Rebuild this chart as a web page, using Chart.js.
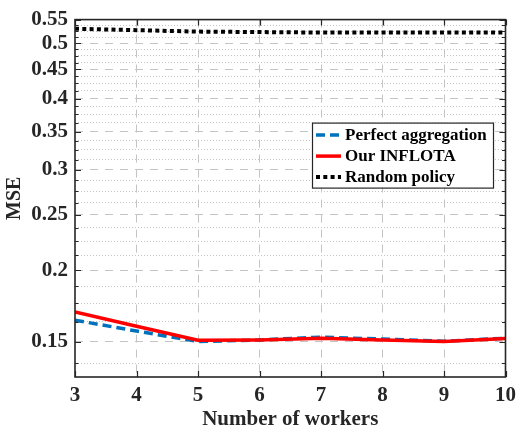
<!DOCTYPE html>
<html lang="en">
<head>
  <meta charset="UTF-8">
  <title>MSE vs number of workers</title>
  <style>
    html, body { margin: 0; padding: 0; background: #fff; }
  </style>
</head>
<body>
  <canvas id="myChart" width="522" height="430"></canvas>

  <script src="https://cdn.jsdelivr.net/npm/chart.js"></script>
  <script>
    // data
    const workers = [3, 4, 5, 6, 7, 8, 9, 10]
    const perfectAggregation = [0.1635, 0.1565, 0.1500, 0.1510, 0.1527, 0.1515, 0.1502, 0.1520]
    const ourInflota = [0.1690, 0.1596, 0.1508, 0.1510, 0.1520, 0.1510, 0.1500, 0.1518]
    const randomPolicy = [0.530, 0.527, 0.524, 0.523, 0.522, 0.522, 0.522, 0.522]

    const seriesNames = ['Perfect aggregation', 'Our INFLOTA', 'Random policy']
    const yMajorTicks = [0.15, 0.2, 0.25, 0.3, 0.35, 0.4, 0.45, 0.5, 0.55]
    const yMinorTicks = [0.1375, 0.1625, 0.175, 0.1875, 0.2125, 0.225, 0.2375, 0.2625, 0.275, 0.2875,
      0.3125, 0.325, 0.3375, 0.3625, 0.375, 0.3875, 0.4125, 0.425, 0.4375, 0.4625, 0.475, 0.4875,
      0.5125, 0.525, 0.5375]
    const yRange = [0.13, 0.55]
    const xRange = [3, 10]

    const FONT = 'Liberation Serif, Times New Roman, serif'
    const INK = '#262626'
    const GRID = '#c4c4c4'

    const toPoints = arr => arr.map((v, i) => ({ x: workers[i], y: v }))

    // box + inward ticks like matlab
    const framePlugin = {
      id: 'frame',
      afterDatasetsDraw(chart) {
        const { ctx, chartArea: a, scales } = chart
        ctx.save()
        ctx.strokeStyle = INK
        ctx.lineWidth = 1.6
        ctx.setLineDash([])
        ctx.strokeRect(a.left, a.top, a.right - a.left, a.bottom - a.top)
        ctx.lineWidth = 1.2
        ctx.beginPath()
        const yTicks = yMajorTicks.concat(yMinorTicks)
        yTicks.forEach(v => {
          const py = Math.round(scales.y.getPixelForValue(v)) + 0.5
          const len = yMajorTicks.includes(v) ? 6 : 3.5
          ctx.moveTo(a.left, py); ctx.lineTo(a.left + len, py)
          ctx.moveTo(a.right, py); ctx.lineTo(a.right - len, py)
        })
        workers.forEach(v => {
          const px = Math.round(scales.x.getPixelForValue(v)) + 0.5
          ctx.moveTo(px, a.bottom); ctx.lineTo(px, a.bottom - 6)
          ctx.moveTo(px, a.top); ctx.lineTo(px, a.top + 6)
        })
        ctx.stroke()
        ctx.restore()
      }
    }

    // legend drawn inside the axes
    const legendPlugin = {
      id: 'insideLegend',
      afterDraw(chart) {
        const { ctx, chartArea: a } = chart
        const bx = a.left + 237, by = a.top + 103, bw = 181, bh = 65
        ctx.save()
        ctx.fillStyle = '#fff'
        ctx.fillRect(bx, by, bw, bh)
        ctx.strokeStyle = INK
        ctx.lineWidth = 1.2
        ctx.setLineDash([])
        ctx.strokeRect(bx + 0.5, by + 0.5, bw, bh)
        ctx.font = 'bold 17px ' + FONT
        ctx.textBaseline = 'middle'
        seriesNames.forEach((name, i) => {
          const ds = chart.data.datasets.find(d => d.label === name)
          const cy = by + 12.5 + i * 21
          ctx.strokeStyle = ds.borderColor
          ctx.lineWidth = ds.borderWidth
          ctx.setLineDash(ds.borderDash || [])
          ctx.beginPath()
          ctx.moveTo(bx + 4, cy)
          ctx.lineTo(bx + 29, cy)
          ctx.stroke()
          ctx.setLineDash([])
          ctx.fillStyle = '#000'
          ctx.fillText(name, bx + 33, cy + 1)
        })
        ctx.restore()
      }
    }

    const tickFont = { family: FONT, size: 21, weight: 'bold' }

    const config = {
      type: 'line',
      data: {
        datasets: [
          {
            label: seriesNames[0],
            data: toPoints(perfectAggregation),
            borderColor: '#0072BD',
            borderWidth: 3.5,
            borderDash: [9, 5],
            order: 2
          },
          {
            label: seriesNames[1],
            data: toPoints(ourInflota),
            borderColor: '#FF0000',
            borderWidth: 3.5,
            order: 1
          },
          {
            label: seriesNames[2],
            data: toPoints(randomPolicy),
            borderColor: '#000000',
            borderWidth: 4,
            borderDash: [4, 3.3],
            order: 0
          }
        ]
      },
      options: {
        responsive: false,
        animation: false,
        devicePixelRatio: 1,
        layout: { padding: { left: 0, top: 13, right: 11, bottom: 0 } },
        elements: { point: { radius: 0 }, line: { tension: 0, fill: false } },
        plugins: { legend: { display: false }, tooltip: { enabled: false } },
        scales: {
          x: {
            type: 'linear',
            min: xRange[0],
            max: xRange[1],
            afterBuildTicks: s => { s.ticks = workers.map(v => ({ value: v })) },
            afterFit: s => { s.height = 53 },
            ticks: { font: tickFont, color: INK, padding: 6, autoSkip: false, maxRotation: 0 },
            grid: {
              drawTicks: false,
              lineWidth: 1,
              color: c => (c.tick && (c.tick.value === xRange[0] || c.tick.value === xRange[1])) ? 'rgba(0,0,0,0)' : GRID
            },
            border: { display: false, dash: [8, 7] },
            title: {
              display: true,
              text: 'Number of workers',
              color: INK,
              font: { family: FONT, size: 21, weight: 'bold', lineHeight: 1 },
              padding: { top: 0, bottom: 0 }
            }
          },
          y: {
            type: 'logarithmic',
            min: yRange[0],
            max: yRange[1],
            afterBuildTicks: s => {
              s.ticks = yMajorTicks.concat(yMinorTicks).sort((p, q) => p - q).map(v => ({ value: v }))
            },
            afterFit: s => { s.width = 75 },
            ticks: {
              font: tickFont,
              color: INK,
              padding: 7,
              autoSkip: false,
              callback: v => yMajorTicks.includes(v) ? String(v) : ''
            },
            grid: {
              drawTicks: false,
              lineWidth: 1,
              color: c => (c.tick && (c.tick.value === yRange[1])) ? 'rgba(0,0,0,0)' : GRID
            },
            border: {
              display: false,
              dash: c => (c.tick && yMajorTicks.includes(c.tick.value)) ? [8, 7] : [1, 2]
            },
            title: {
              display: true,
              text: 'MSE',
              color: INK,
              font: { family: FONT, size: 20, weight: 'bold', lineHeight: 1 },
              padding: { top: 5, bottom: 0 }
            }
          }
        }
      },
      plugins: [framePlugin, legendPlugin]
    }

    new Chart(document.getElementById('myChart'), config)
  </script>
</body>
</html>
